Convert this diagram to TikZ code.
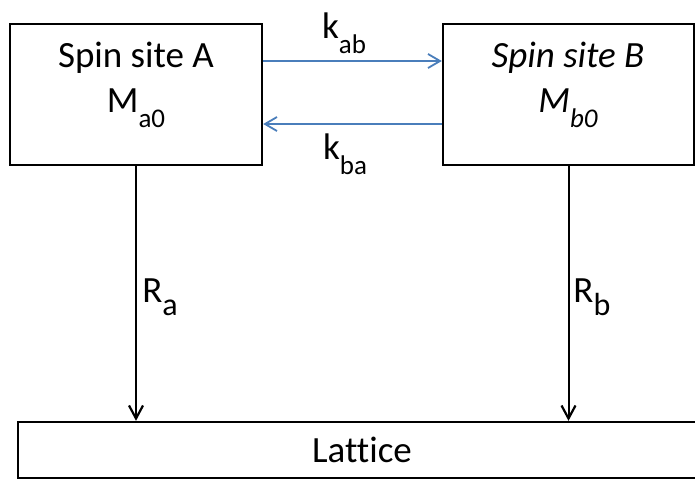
\documentclass[tikz,border=0pt]{standalone}
\usepackage{fontspec}
\setmainfont{Carlito}[Ligatures=NoCommon]
\usetikzlibrary{arrows.meta}
\definecolor{linkblue}{RGB}{74,126,187}
\newcommand\lowsub[1]{\raisebox{-7.5pt}{\fontsize{13.5}{13.5}\selectfont #1}}
\newcommand\rsub[1]{\raisebox{-6.5pt}{\fontsize{16}{16}\selectfont #1}}
\begin{document}
\begin{tikzpicture}[x=0.5pt,y=-0.5pt,
  box/.style={draw, line width=1.2pt, inner sep=0pt},
  txt/.style={inner sep=0pt, anchor=base, font=\fontsize{18.5}{22}\selectfont},
  flow/.style={draw=linkblue, line width=0.9pt, -{Straight Barb[length=6pt,width=7pt]}},
  relax/.style={draw, line width=1pt, -{Straight Barb[length=6.5pt,width=7pt,line width=1.1pt]}}]
\clip (0,0) rectangle (695,479);
\fill[white] (0,0) rectangle (695,479);
% boxes
\node[box, minimum width=126pt, minimum height=70.5pt] (A) at (136,94.5) {};
\node[box, minimum width=125.5pt, minimum height=70.5pt] (B) at (568.5,94.5) {};
\node[box, minimum width=350pt, minimum height=28pt] (L) at (368,450) {};
% box texts
\node[txt] (A1) at (136,67) {Spin site A};
\node[txt] (A2) at (136,112) {M\lowsub{a0}};
\node[txt] (B1) at (568,67) {\itshape Spin site B};
\node[txt] (B2) at (568,112) {\itshape M\lowsub{b0}};
\node[txt] (L1) at (362,462) {Lattice};
% exchange arrows
\draw[flow] ([yshift=16.75pt]A.east) -- ([yshift=16.75pt]B.west);
\draw[flow] ([yshift=-14.75pt]B.west) -- ([yshift=-14.75pt]A.east);
\node[txt] (kab) at (344,38) {k\lowsub{ab}};
\node[txt] (kba) at (345,159) {k\lowsub{ba}};
% relaxation arrows
\draw[relax] (A.south) -- (A.south |- L.north);
\draw[relax] (B.south) -- (B.south |- L.north);
\node[txt, anchor=base west] (Ra) at (142,302) {R\rsub{a}};
\node[txt, anchor=base west] (Rb) at (573,302) {R\rsub{b}};
\end{tikzpicture}
\end{document}
